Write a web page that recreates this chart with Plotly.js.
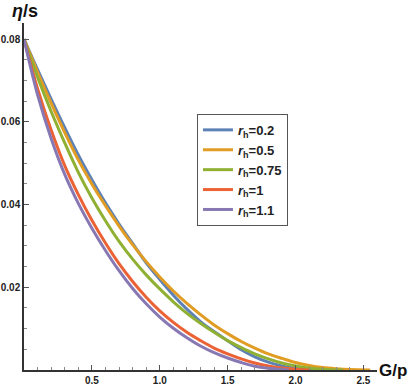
<!DOCTYPE html>
<html>
<head>
<meta charset="utf-8">
<script src="https://cdn.plot.ly/plotly-3.0.1.min.js"></script>
<style>
  body { margin: 0; background: #fff; }
  #plot { width: 409px; height: 387px; }
</style>
</head>
<body>
<div id="plot"></div>
<script>
// values, eta/s against G/p

let gp02 = [0, 0.1, 0.2, 0.3, 0.4, 0.5, 0.6, 0.7, 0.8, 0.9, 1.0, 1.1, 1.2, 1.3, 1.4, 1.5, 1.6, 1.7, 1.8, 1.9, 2.0, 2.1, 2.2];
let eta02 = [0.080, 0.0726, 0.0655, 0.0586, 0.0520, 0.0460, 0.0404, 0.0353, 0.0306, 0.0259, 0.0219, 0.0181, 0.0147, 0.0117, 0.0093, 0.0071, 0.0049, 0.0032, 0.0019, 0.0010, 0.0004, 0.0001, 0];

let gp05 = [0, 0.1, 0.2, 0.3, 0.4, 0.5, 0.6, 0.7, 0.8, 0.9, 1.0, 1.1, 1.2, 1.3, 1.4, 1.5, 1.6, 1.7, 1.8, 1.9, 2.0, 2.1, 2.2, 2.3, 2.4, 2.55];
let eta05 = [0.080, 0.0720, 0.0645, 0.0574, 0.0508, 0.0450, 0.0397, 0.0348, 0.0303, 0.0262, 0.0225, 0.0191, 0.0161, 0.0134, 0.0109, 0.0088, 0.0069, 0.0053, 0.0039, 0.0028, 0.0018, 0.0011, 0.0006, 0.0003, 0.0001, 0];

let gp075 = [0, 0.1, 0.2, 0.3, 0.4, 0.5, 0.6, 0.7, 0.8, 0.9, 1.0, 1.1, 1.2, 1.3, 1.4, 1.5, 1.6, 1.7, 1.8, 1.9, 2.0, 2.1, 2.2, 2.35];
let eta075 = [0.080, 0.0708, 0.0625, 0.0549, 0.0478, 0.0416, 0.0361, 0.0311, 0.0268, 0.0230, 0.0196, 0.0165, 0.0137, 0.0113, 0.0091, 0.0071, 0.0054, 0.0039, 0.0027, 0.0017, 0.0010, 0.0005, 0.0002, 0];

let gp1 = [0, 0.1, 0.2, 0.3, 0.4, 0.5, 0.6, 0.7, 0.8, 0.9, 1.0, 1.1, 1.2, 1.3, 1.4, 1.5, 1.6, 1.7, 1.8, 1.9, 2.0, 2.1];
let eta1 = [0.080, 0.0680, 0.0580, 0.0494, 0.0424, 0.0362, 0.0307, 0.0257, 0.0214, 0.0176, 0.0143, 0.0115, 0.0091, 0.0071, 0.0053, 0.0039, 0.0027, 0.0017, 0.0010, 0.0005, 0.0002, 0];

let gp11 = [0, 0.1, 0.2, 0.3, 0.4, 0.5, 0.6, 0.7, 0.8, 0.9, 1.0, 1.1, 1.2, 1.3, 1.4, 1.5, 1.6, 1.7, 1.8, 1.9, 1.95];
let eta11 = [0.080, 0.0665, 0.0560, 0.0473, 0.0403, 0.0343, 0.0289, 0.0240, 0.0197, 0.0160, 0.0128, 0.0101, 0.0078, 0.0058, 0.0042, 0.0029, 0.0018, 0.0009, 0.0004, 0.0001, 0];

let names = ['0.2', '0.5', '0.75', '1', '1.1'];
let colors = ['#5E81B5', '#E19C24', '#8FB032', '#EB6235', '#8778B3'];

let xs = [gp02, gp05, gp075, gp1, gp11];
let ys = [eta02, eta05, eta075, eta1, eta11];

var data = [];
for (let i = 0; i < names.length; i++) {
    data.push({
        x: xs[i],
        y: ys[i],
        type: 'scatter',
        mode: 'lines',
        line: {color: colors[i], width: 3, shape: 'spline', smoothing: 1},
        name: '<b><i>r</i><sub>h</sub>=' + names[i] + '</b>'
    });
}

var tickFont = {family: 'Liberation Sans, Arial, sans-serif', size: 10, color: '#222'};

var layout = {
    width: 409,
    height: 387,
    margin: {l: 24, r: 32, t: 23, b: 17},
    paper_bgcolor: '#fff',
    plot_bgcolor: '#fff',
    showlegend: true,
    legend: {
        x: 0.49, y: 0.738, xanchor: 'left', yanchor: 'top',
        bordercolor: '#555', borderwidth: 1, bgcolor: '#fff',
        font: {family: 'Liberation Sans, Arial, sans-serif', size: 13, color: '#222'},
        tracegroupgap: 0
    },
    xaxis: {
        range: [0, 2.6],
        showgrid: false, zeroline: false,
        showline: true, linecolor: '#333', linewidth: 1.5,
        ticks: 'inside', ticklen: 5, tickcolor: '#555',
        tickvals: [0.5, 1, 1.5, 2, 2.5],
        ticktext: ['<b>0.5</b>', '<b>1.0</b>', '<b>1.5</b>', '<b>2.0</b>', '<b>2.5</b>'],
        tickfont: tickFont,
        minor: {ticks: 'inside', ticklen: 3, dtick: 0.1, tick0: 0, tickcolor: '#888'}
    },
    yaxis: {
        range: [0, 0.0839],
        showgrid: false, zeroline: false,
        showline: true, linecolor: '#333', linewidth: 1.5,
        ticks: 'inside', ticklen: 5, tickcolor: '#555',
        tickvals: [0.02, 0.04, 0.06, 0.08],
        ticktext: ['<b>0.02</b>', '<b>0.04</b>', '<b>0.06</b>', '<b>0.08</b>'],
        tickfont: tickFont,
        minor: {ticks: 'inside', ticklen: 3, dtick: 0.005, tick0: 0, tickcolor: '#888'}
    },
    annotations: [
        {
            text: '<b><i>η</i>/s</b>', xref: 'paper', yref: 'paper',
            x: -0.04, y: 1.0, xanchor: 'left', yanchor: 'bottom', showarrow: false,
            font: {family: 'Liberation Sans, Arial, sans-serif', size: 18, color: '#111'}
        },
        {
            text: '<b>G/p</b>', xref: 'paper', yref: 'paper',
            x: 1.0, y: 0, xanchor: 'left', yanchor: 'middle', showarrow: false,
            font: {family: 'Liberation Sans, Arial, sans-serif', size: 17, color: '#111'}
        }
    ]
};

Plotly.newPlot('plot', data, layout, {displayModeBar: false});
</script>
</body>
</html>
